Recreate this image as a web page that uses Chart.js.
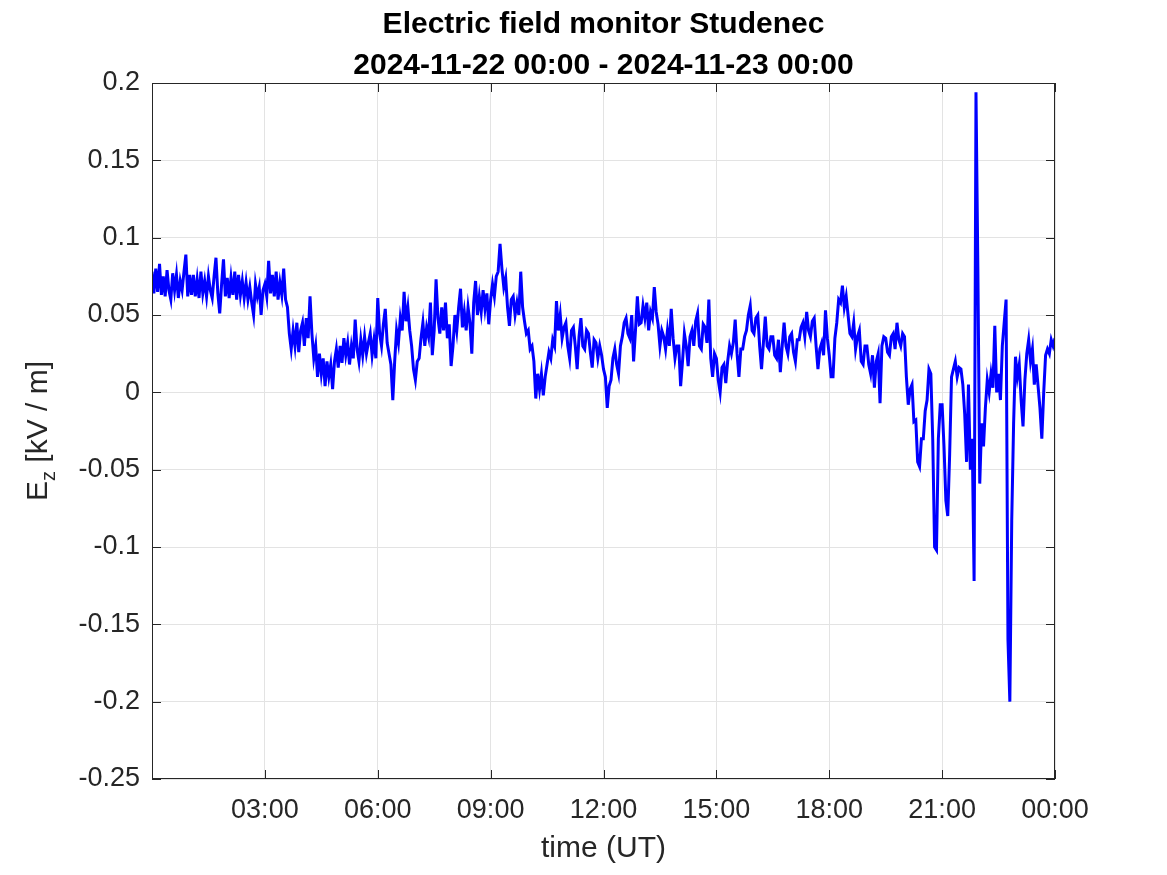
<!DOCTYPE html>
<html>
<head>
<meta charset="utf-8">
<script src="https://cdn.jsdelivr.net/npm/chart.js@4.4.1/dist/chart.umd.min.js"></script>
<style>
  body { margin: 0; background: #ffffff; }
  #container { width: 1167px; height: 875px; }
</style>
</head>
<body>
<div id="container"><canvas id="efield" width="1167" height="875"></canvas></div>
<script>
// Ez [kV/m], every 3 minutes (one row per hour) from 00:00 to 21:27
var dayStart = 0;
var dayStep = 0.05;
var dayEz = [
  0.078, 0.064, 0.080, 0.065, 0.083, 0.063, 0.075, 0.062, 0.079, 0.066, 0.060, 0.077, 0.066, 0.076, 0.061, 0.072, 0.066, 0.078, 0.089, 0.062,
  0.076, 0.063, 0.076, 0.062, 0.073, 0.061, 0.078, 0.064, 0.072, 0.062, 0.075, 0.066, 0.061, 0.075, 0.087, 0.064, 0.051, 0.070, 0.086, 0.062,
  0.074, 0.061, 0.074, 0.063, 0.078, 0.060, 0.076, 0.063, 0.072, 0.061, 0.071, 0.060, 0.068, 0.058, 0.050, 0.070, 0.062, 0.068, 0.050, 0.066,
  0.070, 0.062, 0.085, 0.064, 0.076, 0.062, 0.078, 0.060, 0.071, 0.063, 0.080, 0.060, 0.055, 0.038, 0.028, 0.040, 0.030, 0.045, 0.026, 0.040,
  0.045, 0.030, 0.048, 0.035, 0.062, 0.038, 0.022, 0.030, 0.010, 0.025, 0.012, 0.022, 0.004, 0.020, 0.010, 0.018, 0.002, 0.020, 0.028, 0.016,
  0.030, 0.019, 0.035, 0.024, 0.032, 0.018, 0.030, 0.022, 0.047, 0.028, 0.020, 0.034, 0.024, 0.036, 0.025, 0.032, 0.038, 0.024, 0.034, 0.022,
  0.061, 0.038, 0.030, 0.044, 0.054, 0.032, 0.025, 0.018, -0.005, 0.020, 0.040, 0.032, 0.048, 0.040, 0.065, 0.046, 0.055, 0.040, 0.030, 0.015,
  0.008, 0.020, 0.022, 0.035, 0.045, 0.030, 0.042, 0.036, 0.058, 0.024, 0.040, 0.073, 0.048, 0.038, 0.055, 0.040, 0.058, 0.035, 0.044, 0.017,
  0.030, 0.050, 0.040, 0.055, 0.067, 0.042, 0.052, 0.040, 0.055, 0.045, 0.025, 0.058, 0.072, 0.050, 0.062, 0.052, 0.066, 0.054, 0.064, 0.044,
  0.060, 0.070, 0.062, 0.075, 0.078, 0.096, 0.080, 0.068, 0.074, 0.055, 0.043, 0.060, 0.062, 0.050, 0.058, 0.050, 0.078, 0.055, 0.046, 0.038,
  0.040, 0.028, 0.030, 0.020, -0.004, 0.012, 0.002, 0.012, -0.002, 0.010, 0.018, 0.026, 0.022, 0.034, 0.030, 0.059, 0.040, 0.050, 0.035, 0.042,
  0.045, 0.030, 0.022, 0.040, 0.042, 0.030, 0.015, 0.036, 0.048, 0.030, 0.028, 0.040, 0.038, 0.026, 0.016, 0.034, 0.032, 0.022, 0.030, 0.024,
  0.015, 0.010, -0.010, 0.004, 0.008, 0.022, 0.028, 0.018, 0.012, 0.030, 0.036, 0.045, 0.048, 0.038, 0.035, 0.050, 0.020, 0.040, 0.062, 0.044,
  0.045, 0.056, 0.048, 0.058, 0.040, 0.052, 0.048, 0.068, 0.052, 0.044, 0.030, 0.040, 0.036, 0.028, 0.040, 0.030, 0.054, 0.035, 0.022, 0.030,
  0.030, 0.004, 0.020, 0.038, 0.030, 0.017, 0.036, 0.040, 0.030, 0.046, 0.051, 0.030, 0.028, 0.044, 0.042, 0.032, 0.060, 0.022, 0.010, 0.025,
  0.022, 0.008, 0.000, 0.016, 0.018, 0.006, 0.020, 0.030, 0.025, 0.032, 0.047, 0.025, 0.010, 0.028, 0.028, 0.036, 0.040, 0.050, 0.056, 0.040,
  0.038, 0.048, 0.050, 0.030, 0.015, 0.032, 0.049, 0.030, 0.028, 0.036, 0.036, 0.024, 0.022, 0.034, 0.013, 0.030, 0.045, 0.030, 0.025, 0.036,
  0.038, 0.026, 0.020, 0.034, 0.034, 0.042, 0.045, 0.036, 0.052, 0.040, 0.036, 0.046, 0.048, 0.030, 0.015, 0.028, 0.032, 0.024, 0.053, 0.035,
  0.024, 0.010, 0.010, 0.035, 0.045, 0.060, 0.058, 0.069, 0.055, 0.062, 0.050, 0.038, 0.036, 0.045, 0.028, 0.036, 0.040, 0.020, 0.018, 0.030,
  0.030, 0.018, 0.012, 0.024, 0.003, 0.020, 0.025, -0.007, 0.030, 0.036, 0.035, 0.026, 0.024, 0.036, 0.038, 0.028, 0.045, 0.034, 0.030, 0.038,
  0.036, 0.010, -0.008, 0.002, 0.005, -0.019, -0.018, -0.045, -0.048, -0.030, -0.030, -0.012, -0.005, 0.015, 0.012, -0.030, -0.100, -0.102, -0.030, -0.008,
  -0.008, -0.035, -0.070, -0.080, -0.040, 0.010, 0.015, 0.020, 0.010, 0.016
];

// the stormy evening, every 3 minutes from 21:30 to 24:00
var eveningStart = 21.5;
var eveningStep = 0.05;
var eveningEz = [
  0.015, 0.005, -0.014, -0.045, 0.005, -0.050, -0.030, -0.122, 0.194, 0.080,
  -0.059, -0.020, -0.035, -0.010, 0.008, 0.000, 0.012, 0.003, 0.043, 0.000,
  0.012, -0.005, 0.030, 0.045, 0.060, -0.160, -0.200, -0.083, -0.020, 0.023,
  0.010, 0.018, -0.005, -0.022, 0.008, 0.025, 0.034, 0.020, 0.028, 0.005,
  0.018, 0.004, -0.010, -0.030, 0.000, 0.024, 0.028, 0.025, 0.034, 0.030,
  0.035
];

var xTickHours = [3, 6, 9, 12, 15, 18, 21, 24];
var xTickLabels = ["03:00", "06:00", "09:00", "12:00", "15:00", "18:00", "21:00", "00:00"];
var yTickValues = [0.2, 0.15, 0.1, 0.05, 0, -0.05, -0.1, -0.15, -0.2, -0.25];
var yTickLabels = ["0.2", "0.15", "0.1", "0.05", "0", "-0.05", "-0.1", "-0.15", "-0.2", "-0.25"];

var titleLines = ["Electric field monitor Studenec", "2024-11-22 00:00 - 2024-11-23 00:00"];
var FONT = "'Liberation Sans', Arial, Helvetica, sans-serif";
var AXIS_COLOR = "#262626";

var points = [];
dayEz.forEach(function (v, i) {
  points.push({ x: +(dayStart + i * dayStep).toFixed(2), y: v });
});
eveningEz.forEach(function (v, i) {
  points.push({ x: +(eveningStart + i * eveningStep).toFixed(2), y: v });
});

// title, axis titles, box and inward tick marks like the matlab figure
var decorations = {
  id: "decorations",
  afterDraw: function (chart) {
    var ctx = chart.ctx;
    var area = chart.chartArea;
    var xs = chart.scales.x;
    var ys = chart.scales.y;
    ctx.save();

    ctx.strokeStyle = AXIS_COLOR;
    ctx.lineWidth = 1;
    ctx.strokeRect(area.left + 0.5, area.top + 0.5, area.right - area.left - 1, area.bottom - area.top - 1);

    ctx.beginPath();
    xTickHours.forEach(function (h) {
      var px = Math.round(xs.getPixelForValue(h)) + 0.5;
      ctx.moveTo(px, area.bottom);
      ctx.lineTo(px, area.bottom - 9);
      ctx.moveTo(px, area.top);
      ctx.lineTo(px, area.top + 9);
    });
    yTickValues.forEach(function (v) {
      var py = Math.round(ys.getPixelForValue(v)) + 0.5;
      ctx.moveTo(area.left, py);
      ctx.lineTo(area.left + 9, py);
      ctx.moveTo(area.right, py);
      ctx.lineTo(area.right - 9, py);
    });
    ctx.stroke();

    var cx = (area.left + area.right) / 2;
    ctx.fillStyle = "#000000";
    ctx.textAlign = "center";
    ctx.textBaseline = "alphabetic";
    ctx.font = "bold 30px " + FONT;
    ctx.fillText(titleLines[0], cx, 33);
    ctx.fillText(titleLines[1], cx, 74);

    ctx.fillStyle = AXIS_COLOR;
    ctx.font = "30px " + FONT;
    ctx.fillText("time (UT)", cx, 857);

    // y label with subscript z
    ctx.translate(47, (area.top + area.bottom) / 2);
    ctx.rotate(-Math.PI / 2);
    ctx.font = "30px " + FONT;
    var wE = ctx.measureText("E").width;
    var wRest = ctx.measureText(" [kV / m]").width;
    ctx.font = "20px " + FONT;
    var wZ = ctx.measureText("z").width;
    var start = -(wE + wZ + wRest) / 2;
    ctx.textAlign = "left";
    ctx.font = "30px " + FONT;
    ctx.fillText("E", start, 0);
    ctx.font = "20px " + FONT;
    ctx.fillText("z", start + wE, 8);
    ctx.font = "30px " + FONT;
    ctx.fillText(" [kV / m]", start + wE + wZ, 0);

    ctx.restore();
  }
};

var ctx = document.getElementById("efield");
var myChart = new Chart(ctx, {
  type: "line",
  data: {
    datasets: [
      {
        label: "Ez",
        data: points,
        borderColor: "#0000ff",
        borderWidth: 3,
        pointRadius: 0,
        tension: 0,
        fill: false
      }
    ]
  },
  options: {
    responsive: false,
    animation: false,
    devicePixelRatio: 1,
    layout: { padding: { top: 83, right: 112, bottom: 0, left: 0 } },
    plugins: {
      legend: { display: false },
      tooltip: { enabled: false },
      title: { display: false }
    },
    scales: {
      x: {
        type: "linear",
        min: 0,
        max: 24,
        afterBuildTicks: function (scale) {
          scale.ticks = xTickHours.map(function (h) { return { value: h }; });
        },
        afterFit: function (scale) { scale.height = 96; },
        grid: { color: "#e3e3e3", drawTicks: false },
        border: { display: false },
        ticks: {
          autoSkip: false,
          maxRotation: 0,
          padding: 15,
          color: AXIS_COLOR,
          font: { family: FONT, size: 27 },
          callback: function (value) {
            var i = xTickHours.indexOf(value);
            return i >= 0 ? xTickLabels[i] : "";
          }
        }
      },
      y: {
        type: "linear",
        min: -0.25,
        max: 0.2,
        afterBuildTicks: function (scale) {
          scale.ticks = yTickValues.map(function (v) { return { value: v }; });
        },
        afterFit: function (scale) { scale.width = 152; },
        grid: { color: "#e3e3e3", drawTicks: false },
        border: { display: false },
        ticks: {
          autoSkip: false,
          padding: 12,
          color: AXIS_COLOR,
          font: { family: FONT, size: 27 },
          callback: function (value) {
            var i = yTickValues.findIndex(function (v) { return Math.abs(v - value) < 1e-9; });
            return i >= 0 ? yTickLabels[i] : "";
          }
        }
      }
    }
  },
  plugins: [decorations]
});
</script>
</body>
</html>
